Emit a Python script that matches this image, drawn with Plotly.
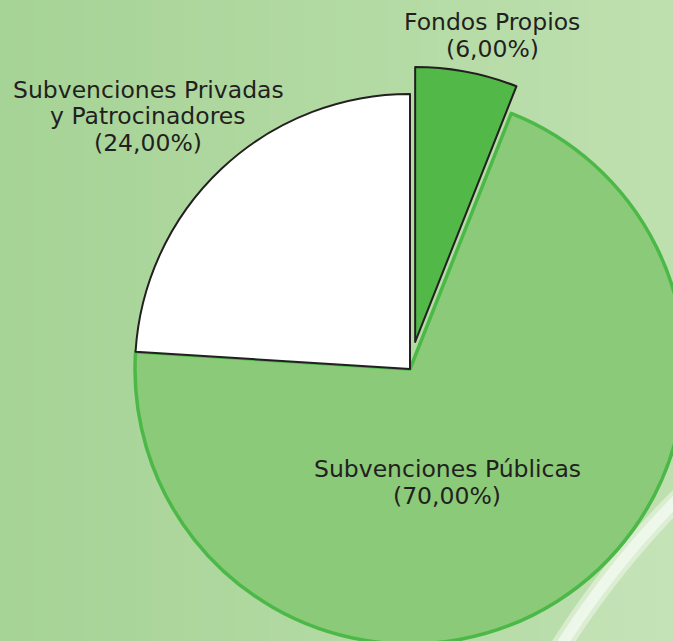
import plotly.graph_objects as go

# ---- data ----
labels = ["Fondos Propios", "Subvenciones Públicas", "Subvenciones Privadas y Patrocinadores"]
label_lines = [["Fondos Propios"], ["Subvenciones Públicas"], ["Subvenciones Privadas", "y Patrocinadores"]]
values = [6, 70, 24]
colors = ["#52b848", "#8aca78", "#ffffff"]
line_colors = ["#231f20", "#4cb848", "#231f20"]
line_widths = [2, 3.5, 2]
pulls = [0.1, 0, 0]

# ---- canvas (larger than the viewport so the pie can bleed off the edges) ----
W, H = 820, 700
VW, VH = 673, 641

def px(x):
    return x / W

def py(y):
    return 1 - y / H

# pie box: centre (410, 369), radius 275 with pull 0.1 -> half box 302.5
cx, cy, half = 410, 369, 275 * 1.1
dom_x = [0, 1]
dom_y = [py(cy + half), py(cy - half)]

fig = go.Figure()
fig.add_trace(go.Pie(
    labels=labels,
    values=values,
    sort=False,
    direction="clockwise",
    rotation=0,
    pull=pulls,
    marker=dict(colors=colors, line=dict(color=line_colors, width=line_widths)),
    textinfo="none",
    hoverinfo="label+percent",
    showlegend=False,
    domain=dict(x=dom_x, y=dom_y),
))

# background gradient bands (decoration)
shapes = []
N = 40
c0 = (166, 211, 150)
c1 = (190, 224, 175)
for i in range(N):
    t = i / (N - 1)
    col = tuple(int(round(a + (b - a) * t)) for a, b in zip(c0, c1))
    x0 = i * VW / N
    x1 = (i + 1) * VW / N + (W - VW if i == N - 1 else 0)
    shapes.append(dict(type="rect", xref="paper", yref="paper",
                       x0=px(x0), x1=px(x1) + 0.002, y0=0, y1=1,
                       fillcolor="rgb(%d,%d,%d)" % col, line=dict(width=0), layer="below"))

# lighter area and white streak bottom-right (decoration)
streak = "M %f,%f Q %f,%f %f,%f" % (px(692), py(485), px(612), py(562), px(552), py(660))
shapes.append(dict(type="path", xref="paper", yref="paper",
                   path=streak + " L %f,%f L %f,%f Z" % (px(820), py(660), px(820), py(485)),
                   fillcolor="rgba(255,255,255,0.10)", line=dict(width=0), layer="below"))
shapes.append(dict(type="path", xref="paper", yref="paper", path=streak,
                   line=dict(color="rgba(245,250,240,0.5)", width=20), layer="below"))
shapes.append(dict(type="path", xref="paper", yref="paper", path=streak,
                   line=dict(color="rgba(240,248,236,0.9)", width=11), layer="below"))

# labels
total = sum(values)
label_x = [492, 447, 148]
label_y0 = [22, 469, 90]
spacing = 26.5
annotations = []
for lines, v, ax, ay in zip(label_lines, values, label_x, label_y0):
    pct = ("(%.2f%%)" % (100 * v / total)).replace(".", ",")
    for k, ln in enumerate(lines + [pct]):
        annotations.append(dict(
            text=ln, x=px(ax), y=py(ay + k * spacing), xref="paper", yref="paper",
            xanchor="center", yanchor="middle", showarrow=False, align="center",
            font=dict(family="DejaVu Sans", size=23.5, color="#231f20"),
        ))

fig.update_layout(
    width=W, height=H,
    margin=dict(l=0, r=0, t=0, b=0),
    paper_bgcolor="#b2dba3",
    plot_bgcolor="rgba(0,0,0,0)",
    shapes=shapes,
    annotations=annotations,
)

fig.write_html(
    "out.html",
    post_script="document.documentElement.style.overflow='hidden';document.body.style.overflow='hidden';document.body.style.margin='0';",
)
